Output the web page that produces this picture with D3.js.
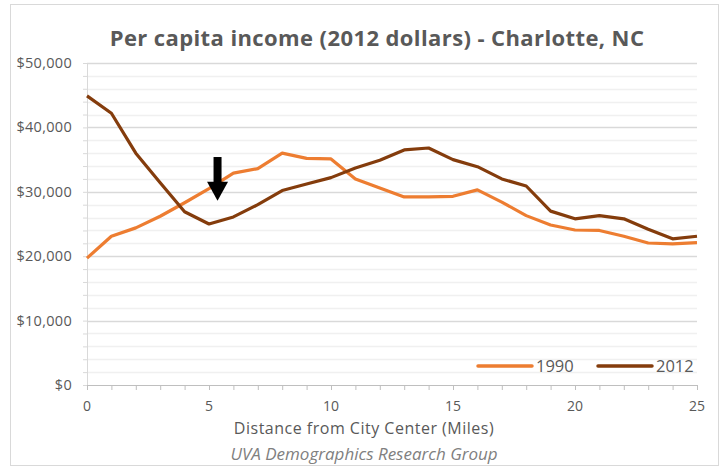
<!DOCTYPE html>
<html>
<head>
<meta charset="utf-8">
<script src="https://cdn.jsdelivr.net/npm/d3@7"></script>
<style>
  body { margin: 0; background: #fff; }
  text { font-family: "Open Sans", "DejaVu Sans", sans-serif; }
</style>
</head>
<body>
<div id="chart"></div>
<script>
// Per capita income by distance from city center - Charlotte
var miles = d3.range(0, 26);
var income1990 = [19700, 23100, 24400, 26200, 28300, 30500, 32900, 33600, 36000, 35200,
                  35100, 32000, 30600, 29200, 29200, 29300, 30300, 28400, 26300, 24850,
                  24070, 24000, 23100, 22050, 21900, 22100];
var income2012 = [44900, 42200, 36000, 31400, 26900, 25000, 26100, 28000, 30200, 31200,
                  32200, 33700, 34900, 36500, 36800, 35000, 33900, 32000, 30900, 27000,
                  25800, 26300, 25800, 24200, 22700, 23100];
var seriesNames = ["1990", "2012"];
var xTicks = [0, 5, 10, 15, 20, 25];
var yTicks = [0, 10000, 20000, 30000, 40000, 50000];
// arrow annotation (miles, dollars)
var arrowAt = { x: 5.35, top: 35400, tip: 28600 };

var W = 723, H = 469;
var margin = { top: 63, right: 26, bottom: 84, left: 87 };
var width = W - margin.left - margin.right;
var height = H - margin.top - margin.bottom;
var colors = { "1990": "#ED7D31", "2012": "#843C0C" };

var svg = d3.select("#chart").append("svg")
  .attr("width", W).attr("height", H);

// outer chart border
svg.append("rect")
  .attr("x", 10.5).attr("y", 4.5)
  .attr("width", 708).attr("height", 461)
  .attr("fill", "#fff").attr("stroke", "#d9d9d9");

var g = svg.append("g")
  .attr("transform", "translate(" + margin.left + "," + margin.top + ")");

var x = d3.scaleLinear().domain([0, 25]).range([0, width]);
var y = d3.scaleLinear().domain([0, 50000]).range([height, 0]);

// minor gridlines every 2000
g.selectAll("line.minor")
  .data(d3.range(2000, 50001, 2000).filter(function(d) { return d % 10000 != 0; }))
  .enter().append("line")
    .attr("class", "minor")
    .attr("x1", 0).attr("x2", width)
    .attr("y1", function(d) { return Math.round(y(d)) + 0.5; })
    .attr("y2", function(d) { return Math.round(y(d)) + 0.5; })
    .attr("stroke", "#f0f0f0").attr("stroke-width", 1.5);

// major gridlines
g.selectAll("line.major")
  .data(yTicks.slice(1))
  .enter().append("line")
    .attr("class", "major")
    .attr("x1", 0).attr("x2", width)
    .attr("y1", function(d) { return Math.round(y(d)) + 0.5; })
    .attr("y2", function(d) { return Math.round(y(d)) + 0.5; })
    .attr("stroke", "#d9d9d9").attr("stroke-width", 1.5);

// y axis with minor ticks
var yAxis = g.append("g")
  .call(d3.axisLeft(y).tickValues(d3.range(0, 50001, 2000)).tickSize(4).tickFormat(""));
yAxis.select(".domain").attr("stroke", "#d9d9d9");
yAxis.selectAll(".tick line").attr("stroke", "#d9d9d9");

g.append("g")
  .selectAll("text")
  .data(yTicks)
  .enter().append("text")
    .attr("x", -15)
    .attr("y", function(d) { return y(d); })
    .attr("dy", "0.35em")
    .attr("text-anchor", "end")
    .style("font-size", "14.5px")
    .style("letter-spacing", "0.3px")
    .style("fill", "#595959")
    .text(function(d) { return "$" + d3.format(",")(d); });

// x axis with minor ticks every mile
var xAxis = g.append("g")
  .attr("transform", "translate(0," + height + ")")
  .call(d3.axisBottom(x).tickValues(miles).tickSize(5).tickFormat(""));
xAxis.select(".domain").attr("stroke", "#bfbfbf");
xAxis.selectAll(".tick line").attr("stroke", "#bfbfbf");

g.append("g")
  .selectAll("text")
  .data(xTicks)
  .enter().append("text")
    .attr("x", function(d) { return x(d); })
    .attr("y", height + 21)
    .attr("dy", "0.35em")
    .attr("text-anchor", "middle")
    .style("font-size", "14px")
    .style("fill", "#595959")
    .text(function(d) { return d; });

// lines
var line = d3.line()
  .x(function(d, i) { return x(miles[i]); })
  .y(function(d) { return y(d); });

g.append("path")
  .datum(income1990)
  .attr("d", line)
  .attr("fill", "none")
  .attr("stroke", colors["1990"])
  .attr("stroke-width", 3.2)
  .attr("stroke-linejoin", "round");

g.append("path")
  .datum(income2012)
  .attr("d", line)
  .attr("fill", "none")
  .attr("stroke", colors["2012"])
  .attr("stroke-width", 3.2)
  .attr("stroke-linejoin", "round");

// arrow annotation
var ax = x(arrowAt.x), aTop = y(arrowAt.top), aTip = y(arrowAt.tip);
g.append("rect")
  .attr("x", ax - 4).attr("y", aTop)
  .attr("width", 8).attr("height", (aTip - aTop) - 16)
  .attr("fill", "#000");
g.append("path")
  .attr("d", "M" + (ax - 10.5) + "," + (aTip - 19) + "L" + (ax + 10.5) + "," + (aTip - 19) + "L" + ax + "," + aTip + "Z")
  .attr("fill", "#000");

// legend
var legend = g.selectAll("g.legend")
  .data(seriesNames)
  .enter().append("g")
    .attr("class", "legend")
    .attr("transform", function(d, i) { return "translate(" + (391 + i * 120) + "," + (height - 19) + ")"; });
legend.append("line")
  .attr("x1", 0).attr("x2", 54)
  .attr("y1", 0).attr("y2", 0)
  .attr("stroke", function(d) { return colors[d]; })
  .attr("stroke-width", 3.5)
  .attr("stroke-linecap", "round");
legend.append("text")
  .attr("x", 58).attr("y", 0)
  .attr("dy", "0.35em")
  .style("font-size", "16.5px")
  .style("fill", "#595959")
  .text(function(d) { return d; });

// titles
svg.append("text")
  .attr("x", 377).attr("y", 38)
  .attr("dy", "0.35em")
  .attr("text-anchor", "middle")
  .style("font-size", "22px")
  .style("font-weight", "bold")
  .style("letter-spacing", "0.4px")
  .style("fill", "#595959")
  .text("Per capita income (2012 dollars) - Charlotte, NC");

svg.append("text")
  .attr("x", 364).attr("y", 428)
  .attr("dy", "0.35em")
  .attr("text-anchor", "middle")
  .style("font-size", "16px")
  .style("letter-spacing", "0.5px")
  .style("fill", "#595959")
  .text("Distance from City Center (Miles)");

svg.append("text")
  .attr("x", 364).attr("y", 454)
  .attr("dy", "0.35em")
  .attr("text-anchor", "middle")
  .style("font-size", "17px")
  .style("font-style", "italic")
  .style("fill", "#808080")
  .text("UVA Demographics Research Group");
</script>
</body>
</html>
